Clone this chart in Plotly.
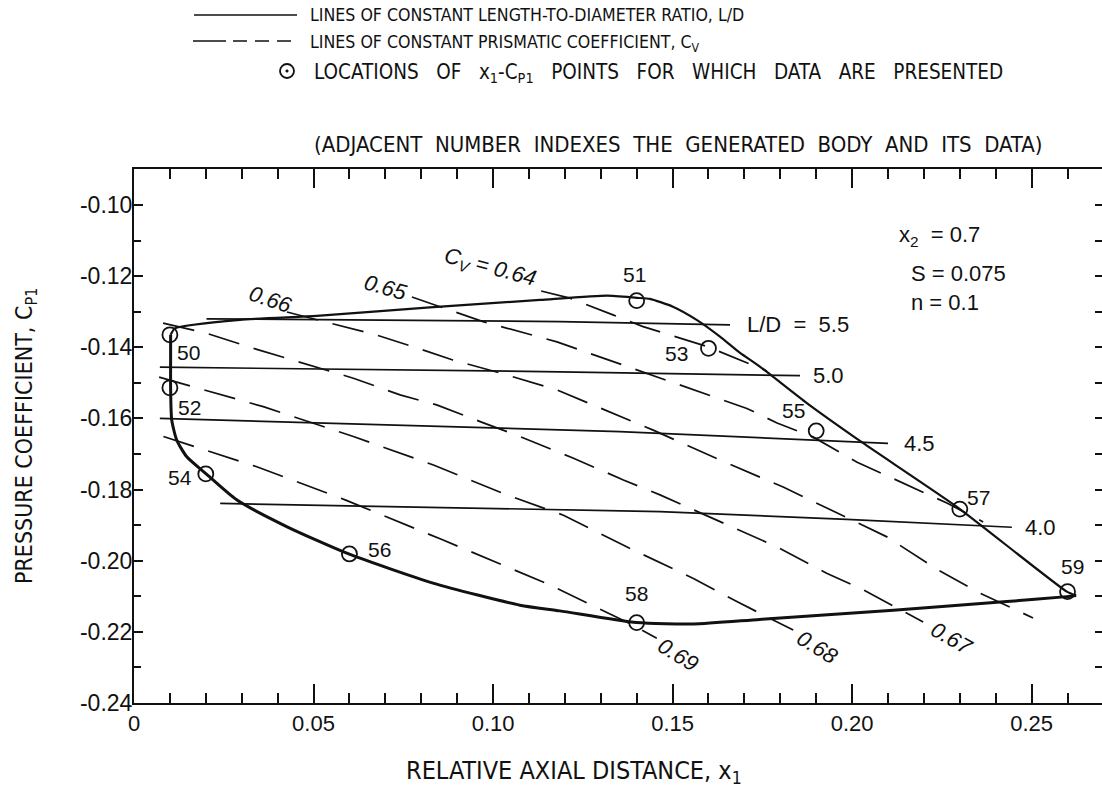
import plotly.graph_objects as go

# ---------------- data ----------------
# body boundary: upper/right branch and lower/left branch
upper_x = [0.0102, 0.0114, 0.0295, 0.0509, 0.0824, 0.1131, 0.1317, 0.1400, 0.1437, 0.1501,
           0.1567, 0.1632, 0.1688, 0.1744, 0.1874, 0.2030, 0.2291, 0.2598, 0.2624]
upper_y = [-0.1365, -0.1347, -0.1323, -0.1312, -0.1288, -0.1267, -0.1255, -0.1261, -0.1264, -0.1286,
           -0.1323, -0.1370, -0.1416, -0.1455, -0.1557, -0.1669, -0.1848, -0.2087, -0.2098]
lower_x = [0.0102, 0.0102, 0.0102, 0.0105, 0.0119, 0.0147, 0.0201, 0.0286, 0.0425, 0.0598,
           0.0833, 0.1075, 0.1186, 0.1400, 0.1558, 0.1743, 0.2115, 0.2431, 0.2598, 0.2624]
lower_y = [-0.1365, -0.1436, -0.1514, -0.1604, -0.1661, -0.1708, -0.1756, -0.1829, -0.1904, -0.1981,
           -0.2063, -0.2125, -0.2141, -0.2174, -0.2178, -0.2165, -0.2139, -0.2115, -0.2101, -0.2098]

# lines of constant L/D
ld_labels = ["L/D\u00a0\u00a0=\u00a0\u00a05.5", "5.0", "4.5", "4.0"]
ld55_x = [0.0202, 0.1186, 0.1660]
ld55_y = [-0.1320, -0.1328, -0.1337]
ld50_x = [0.0072, 0.1186, 0.1855]
ld50_y = [-0.1456, -0.1469, -0.1480]
ld45_x = [0.0072, 0.1353, 0.2100]
ld45_y = [-0.1600, -0.1637, -0.1670]
ld40_x = [0.0240, 0.1465, 0.1985, 0.2445]
ld40_y = [-0.1839, -0.1862, -0.1884, -0.1906]

# lines of constant prismatic coefficient C_V
cv_labels = ["C<sub>V</sub> = 0.64", "0.65", "0.66", "0.67", "0.68", "0.69"]
cv64_x = [0.1134, 0.1214, 0.1334, 0.1418, 0.1599, 0.1688, 0.1763]
cv64_y = [-0.1242, -0.1262, -0.1309, -0.1342, -0.1399, -0.1436, -0.1467]
cv65_x = [0.0774, 0.0852, 0.0972, 0.1178, 0.1418, 0.1707, 0.1791, 0.1891, 0.2014, 0.2153, 0.2264, 0.2365]
cv65_y = [-0.1259, -0.1286, -0.1328, -0.1385, -0.1469, -0.1572, -0.1613, -0.1652, -0.1723, -0.1787, -0.1838, -0.1891]
cv66_x = [0.0426, 0.0510, 0.0677, 0.0788, 0.0888, 0.1019, 0.1178, 0.1446, 0.1632, 0.1808,
          0.1961, 0.2097, 0.2239, 0.2356, 0.2504]
cv66_y = [-0.1301, -0.1323, -0.1366, -0.1402, -0.1436, -0.1472, -0.1520, -0.1633, -0.1717, -0.1793,
          -0.1866, -0.1933, -0.2026, -0.2091, -0.2161]
cv67_x = [0.0081, 0.0203, 0.0342, 0.0485, 0.0611, 0.0741, 0.0843, 0.0964, 0.1075, 0.1224,
          0.1363, 0.1465, 0.1790, 0.1929, 0.2031, 0.2198]
cv67_y = [-0.1332, -0.1361, -0.1406, -0.1450, -0.1487, -0.1534, -0.1562, -0.1609, -0.1651, -0.1712,
          -0.1773, -0.1815, -0.1961, -0.2035, -0.2082, -0.2172]
cv68_x = [0.0070, 0.0360, 0.0611, 0.0834, 0.1038, 0.1196, 0.1372, 0.1558, 0.1679, 0.1836]
cv68_y = [-0.1484, -0.1567, -0.1651, -0.1731, -0.1815, -0.1872, -0.1961, -0.2050, -0.2115, -0.2195]
cv69_x = [0.0082, 0.0342, 0.0588, 0.0861, 0.1149, 0.1372, 0.1456]
cv69_y = [-0.1651, -0.1736, -0.1829, -0.1942, -0.2064, -0.2172, -0.2218]

# x1 - Cp1 points for which data are presented
pt_ids = ["50", "51", "52", "53", "54", "55", "56", "57", "58", "59"]
pt_x = [0.01, 0.14, 0.01, 0.16, 0.02, 0.19, 0.06, 0.23, 0.14, 0.26]
pt_y = [-0.1365, -0.1269, -0.1514, -0.1403, -0.1756, -0.1635, -0.1981, -0.1855, -0.2174, -0.2087]

# axes ticks
x_tick_vals = [0, 0.05, 0.10, 0.15, 0.20, 0.25]
x_tick_text = ["0", "0.05", "0.10", "0.15", "0.20", "0.25"]
y_tick_vals = [-0.10, -0.12, -0.14, -0.16, -0.18, -0.20, -0.22, -0.24]
y_tick_text = ["-0.10", "-0.12", "-0.14", "-0.16", "-0.18", "-0.20", "-0.22", "-0.24"]

# ---------------- layout / style ----------------
FIG_W, FIG_H = 1102, 790
L, T, W, H = 134, 169, 968, 534
X_RANGE = [0, 0.2696]
Y_RANGE = [-0.24, -0.0899]
COND = "DejaVu Sans Condensed"
SANS = "Liberation Sans"
BLACK = "#111111"
DASH = "32px,15px"
NB = "\u00a0"


def PX(X):
    return (X - L) / W


def PY(Y):
    return (T + H - Y) / H


def spaced(s, extra):
    return s.replace(" ", NB * extra + " ")


fig = go.Figure()

# boundary
fig.add_trace(go.Scatter(x=lower_x, y=lower_y, mode="lines",
                         line=dict(color=BLACK, width=3, shape="spline", smoothing=0.6),
                         hoverinfo="skip", showlegend=False))
fig.add_trace(go.Scatter(x=upper_x, y=upper_y, mode="lines",
                         line=dict(color=BLACK, width=2.2, shape="spline", smoothing=0.5),
                         hoverinfo="skip", showlegend=False))

# L/D lines
for xs, ys in [(ld55_x, ld55_y), (ld50_x, ld50_y), (ld45_x, ld45_y), (ld40_x, ld40_y)]:
    fig.add_trace(go.Scatter(x=xs, y=ys, mode="lines",
                             line=dict(color=BLACK, width=1.7),
                             hoverinfo="skip", showlegend=False))

# C_V lines
cv_lines = [(cv64_x, cv64_y), (cv65_x, cv65_y), (cv66_x, cv66_y),
            (cv67_x, cv67_y), (cv68_x, cv68_y), (cv69_x, cv69_y)]
for xs, ys in cv_lines:
    fig.add_trace(go.Scatter(x=xs, y=ys, mode="lines",
                             line=dict(color=BLACK, width=1.7, dash=DASH),
                             hoverinfo="skip", showlegend=False))

# points
fig.add_trace(go.Scatter(x=pt_x, y=pt_y, mode="markers",
                         marker=dict(symbol="circle-open", size=15, color=BLACK,
                                     line=dict(width=1.8, color=BLACK)),
                         hoverinfo="skip", showlegend=False))

# invisible trace on the right axis so its ticks are drawn
fig.add_trace(go.Scatter(x=[pt_x[0]], y=[pt_y[0]], yaxis="y2", mode="markers",
                         marker=dict(opacity=0), hoverinfo="skip", showlegend=False))

annotations = []

# point labels (offsets in pixels: right, down)
pt_label_offsets = {"50": (19, 18), "51": (-2, -26), "52": (20, 20), "53": (-32, 5),
                    "54": (-26, 4), "55": (-23, -20), "56": (30, -4), "57": (19, -12),
                    "58": (0, -29), "59": (5, -25)}
for pid, xv, yv in zip(pt_ids, pt_x, pt_y):
    dx, dy = pt_label_offsets[pid]
    annotations.append(dict(x=xv, y=yv, xref="x", yref="y", text=pid, showarrow=False,
                            xshift=dx, yshift=-dy, xanchor="center", yanchor="middle",
                            font=dict(family=SANS, size=21, color=BLACK)))

# L/D labels at right end of each line
ld_ends = [(ld55_x[-1], ld55_y[-1]), (ld50_x[-1], ld50_y[-1]),
           (ld45_x[-1], ld45_y[-1]), (ld40_x[-1], ld40_y[-1])]
ld_gap = [15, 11, 14, 11]
for txt, (xe, ye), g in zip(ld_labels, ld_ends, ld_gap):
    annotations.append(dict(x=xe, y=ye, xref="x", yref="y", text=txt, showarrow=False,
                            xshift=g, yshift=0, xanchor="left", yanchor="middle",
                            font=dict(family=SANS, size=22, color=BLACK)))

# C_V labels
cv_label_pos = [  # pixel centre, angle
    (490, 268, 15), (386, 287, 16), (271, 299, 19),
    (952, 638, 30), (818, 647, 32), (678, 654, 32)]
for txt, (X, Y, ang) in zip(cv_labels, cv_label_pos):
    annotations.append(dict(x=PX(X), y=PY(Y), xref="paper", yref="paper", text=txt,
                            showarrow=False, textangle=ang, xanchor="center", yanchor="middle",
                            font=dict(family=SANS, size=22, color=BLACK, style="italic")))

# parameters block
for txt, X, Y in [("x<sub>2</sub>\u00a0 = 0.7", 897, 236), ("S = 0.075", 909, 273), ("n = 0.1", 909, 302)]:
    annotations.append(dict(x=PX(X), y=PY(Y), xref="paper", yref="paper", text=txt,
                            showarrow=False, xanchor="left", yanchor="middle",
                            font=dict(family=SANS, size=22, color=BLACK)))

# legend texts
legend_rows = [
    ("LINES OF CONSTANT LENGTH-TO-DIAMETER RATIO, L/D", 308, 15, 17.6),
    ("LINES OF CONSTANT PRISMATIC COEFFICIENT, C<sub>V</sub>", 308, 43, 17.6),
    (spaced("LOCATIONS OF x<sub>1</sub>-C<sub>P1</sub> POINTS FOR WHICH DATA ARE PRESENTED", 2),
     312, 73, 20.5),
    (spaced("(ADJACENT NUMBER INDEXES THE GENERATED BODY AND ITS DATA)", 1), 312, 144, 22),
]
for txt, X, Y, fs in legend_rows:
    annotations.append(dict(x=PX(X), y=PY(Y), xref="paper", yref="paper", text=txt,
                            showarrow=False, xanchor="left", yanchor="middle",
                            font=dict(family=COND, size=fs, color=BLACK)))

# axis titles
annotations.append(dict(x=PX(574), y=PY(772), xref="paper", yref="paper",
                        text="RELATIVE AXIAL DISTANCE, x<sub>1</sub>", showarrow=False,
                        xanchor="center", yanchor="middle",
                        font=dict(family=COND, size=25, color=BLACK)))
annotations.append(dict(x=PX(26), y=PY(436), xref="paper", yref="paper",
                        text="PRESSURE COEFFICIENT, C<sub>P1</sub>", showarrow=False,
                        textangle=-90, xanchor="center", yanchor="middle",
                        font=dict(family=COND, size=23, color=BLACK)))

# legend samples
shapes = [
    dict(type="line", xref="paper", yref="paper", x0=PX(194), x1=PX(297), y0=PY(15), y1=PY(15),
         line=dict(color=BLACK, width=1.7)),
    dict(type="line", xref="paper", yref="paper", x0=PX(193), x1=PX(226), y0=PY(41), y1=PY(41),
         line=dict(color=BLACK, width=1.7)),
    dict(type="line", xref="paper", yref="paper", x0=PX(233), x1=PX(294), y0=PY(41), y1=PY(41),
         line=dict(color=BLACK, width=1.7, dash="14px,8px")),
    dict(type="circle", xref="paper", yref="paper", xsizemode="pixel", ysizemode="pixel",
         xanchor=PX(287), yanchor=PY(71), x0=-7, x1=7, y0=-7, y1=7,
         line=dict(color=BLACK, width=1.8)),
    dict(type="circle", xref="paper", yref="paper", xsizemode="pixel", ysizemode="pixel",
         xanchor=PX(287), yanchor=PY(71), x0=-1.3, x1=1.3, y0=-1.3, y1=1.3,
         fillcolor=BLACK, line=dict(color=BLACK, width=0.5)),
]

right_tick_vals = [round(-0.24 + 0.01 * i, 2) for i in range(16)]

fig.update_layout(
    width=FIG_W, height=FIG_H,
    margin=dict(l=L, r=FIG_W - L - W, t=T, b=FIG_H - T - H),
    paper_bgcolor="white", plot_bgcolor="white",
    showlegend=False,
    annotations=annotations,
    shapes=shapes,
    xaxis=dict(range=X_RANGE, tickmode="array", tickvals=x_tick_vals, ticktext=x_tick_text,
               ticks="inside", ticklen=19, tickwidth=2, tickcolor=BLACK,
               minor=dict(dtick=0.01, tick0=0, ticks="inside", ticklen=10, tickwidth=2,
                          tickcolor=BLACK, showgrid=False),
               showline=True, linewidth=2, linecolor=BLACK, mirror="ticks",
               showgrid=False, zeroline=False,
               tickfont=dict(family=SANS, size=22, color=BLACK)),
    yaxis=dict(range=Y_RANGE, tickmode="array", tickvals=y_tick_vals, ticktext=y_tick_text,
               ticks="inside", ticklen=9, tickwidth=2, tickcolor=BLACK,
               minor=dict(dtick=0.01, tick0=0, ticks="inside", ticklen=7, tickwidth=2,
                          tickcolor=BLACK, showgrid=False),
               showline=True, linewidth=2, linecolor=BLACK, mirror=False,
               showgrid=False, zeroline=False, ticklabelstandoff=-5,
               tickfont=dict(family=SANS, size=23, color=BLACK)),
    yaxis2=dict(range=Y_RANGE, overlaying="y", side="right", tickmode="array",
                tickvals=right_tick_vals, ticks="inside", ticklen=7, tickwidth=2,
                tickcolor=BLACK, showticklabels=False, showline=False, showgrid=False,
                zeroline=False),
)

fig.write_html("out.html")
